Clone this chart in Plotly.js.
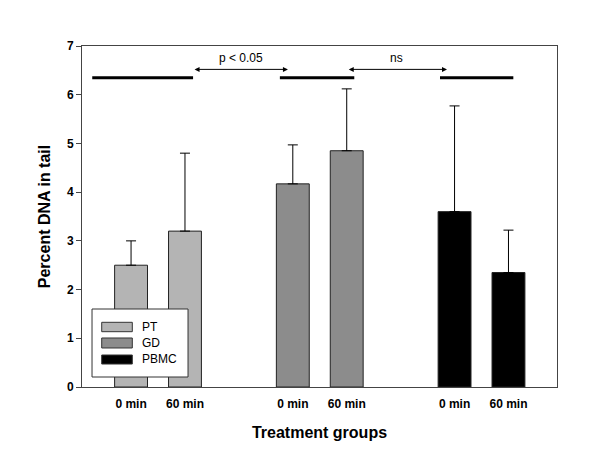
<!DOCTYPE html>
<html><head><meta charset="utf-8">
<script src="https://cdn.plot.ly/plotly-3.0.1.min.js"></script>
<style>html,body{margin:0;padding:0;background:#fff}</style>
</head><body><div id="chart" style="width:600px;height:468px"></div>
<script>
const groups = ["PT", "GD", "PBMC"];
const timeLabels = ["0 min", "60 min"];
const positions = [[0, 1], [3, 4], [6, 7]];
const means = [[2.5, 3.2], [4.17, 4.85], [3.6, 2.35]];
const sdUpper = [[0.5, 1.6], [0.8, 1.27], [2.17, 0.87]];
const colors = ["#b4b4b4", "#8c8c8c", "#000000"];

const traces = groups.map((g, i) => ({
  type: "bar", name: g, x: positions[i], y: means[i], width: 0.61,
  marker: {color: colors[i], line: {color: "#222", width: 1}},
  error_y: {type: "data", symmetric: false, array: sdUpper[i], arrayminus: [0, 0], color: "#000", thickness: 1, width: 5},
  showlegend: false
}));

const F = "Liberation Sans, Arial, sans-serif";
const sigY = 6.35, arrowY = 6.52;
const shapes = [
  {type: "line", xref: "x", yref: "y", x0: -0.72, x1: 1.15, y0: sigY, y1: sigY, line: {color: "#000", width: 3}},
  {type: "line", xref: "x", yref: "y", x0: 2.76, x1: 4.14, y0: sigY, y1: sigY, line: {color: "#000", width: 3}},
  {type: "line", xref: "x", yref: "y", x0: 5.73, x1: 7.09, y0: sigY, y1: sigY, line: {color: "#000", width: 3}},
  // legend box
  {type: "rect", xref: "paper", yref: "paper", x0: 0.0211, x1: 0.2232, y0: 0.0293, y1: 0.2287, fillcolor: "#fff", line: {color: "#333", width: 1}, layer: "above"},
  {type: "rect", xref: "paper", yref: "paper", x0: 0.0415, x1: 0.1059, y0: 0.1622, y1: 0.1897, fillcolor: colors[0], line: {color: "#333", width: 1}, layer: "above"},
  {type: "rect", xref: "paper", yref: "paper", x0: 0.0415, x1: 0.1059, y0: 0.1144, y1: 0.1437, fillcolor: colors[1], line: {color: "#333", width: 1}, layer: "above"},
  {type: "rect", xref: "paper", yref: "paper", x0: 0.0415, x1: 0.1059, y0: 0.0674, y1: 0.0938, fillcolor: colors[2], line: {color: "#333", width: 1}, layer: "above"}
];
const legY = [0.176, 0.129, 0.081];
const annotations = [
  {xref: "x", yref: "y", axref: "x", ayref: "y", x: 2.91, y: arrowY, ax: 1.15, ay: arrowY, showarrow: true, arrowside: "end+start", arrowhead: 2, arrowsize: 1, arrowwidth: 1, arrowcolor: "#000", text: ""},
  {xref: "x", yref: "y", axref: "x", ayref: "y", x: 5.86, y: arrowY, ax: 4.01, ay: arrowY, showarrow: true, arrowside: "end+start", arrowhead: 2, arrowsize: 1, arrowwidth: 1, arrowcolor: "#000", text: ""},
  {xref: "x", yref: "y", x: 2.03, y: 6.76, text: "p < 0.05", showarrow: false, font: {family: F, size: 12, color: "#000"}},
  {xref: "x", yref: "y", x: 4.93, y: 6.76, text: "ns", showarrow: false, font: {family: F, size: 12, color: "#000"}}
].concat(groups.map((g, i) => ({xref: "paper", yref: "paper", x: 0.1221, y: legY[i], xanchor: "left", yanchor: "middle", text: g, showarrow: false, font: {family: F, size: 12, color: "#000"}})));

const layout = {
  width: 600, height: 468,
  margin: {l: 82, r: 43, t: 46, b: 81},
  paper_bgcolor: "#fff", plot_bgcolor: "#fff",
  font: {family: F, color: "#000"},
  bargap: 0,
  xaxis: {
    range: [-0.91, 7.9], tickvals: positions.flat(), ticktext: positions.flat().map((p, k) => timeLabels[k % 2]),
    ticks: "", ticklabelstandoff: 6, showgrid: false, zeroline: false, showline: true, mirror: true, linecolor: "#444", linewidth: 1,
    tickfont: {family: F, size: 12, color: "#000", weight: "bold"},
    title: {text: "<b>Treatment groups</b>", font: {family: F, size: 16, color: "#000"}, standoff: 16}
  },
  yaxis: {
    range: [0, 7], dtick: 1, ticks: "outside", ticklen: 5, tickcolor: "#444", showgrid: false, zeroline: false,
    showline: true, mirror: true, linecolor: "#444", linewidth: 1,
    tickfont: {family: F, size: 12, color: "#000", weight: "bold"},
    title: {text: "<b>Percent DNA in tail</b>", font: {family: F, size: 16, color: "#000"}, standoff: 12}
  },
  shapes: shapes, annotations: annotations, showlegend: false
};
Plotly.newPlot("chart", traces, layout, {staticPlot: true});
</script></body></html>
